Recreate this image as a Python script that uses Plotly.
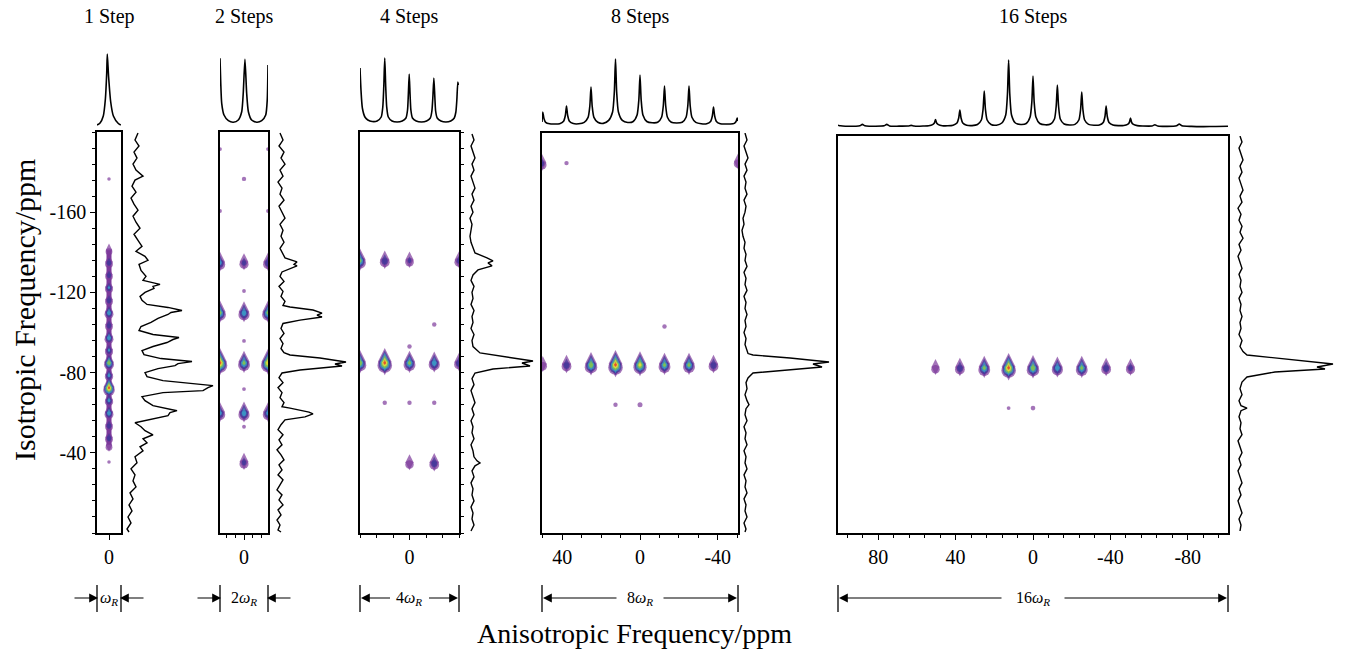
import math
import plotly.graph_objects as go

# ---------------- data ----------------
OMEGA_R = 12.6  # rotor frequency in ppm
STEPS = [1, 2, 4, 8, 16]
TITLES = ["1 Step", "2 Steps", "4 Steps", "8 Steps", "16 Steps"]
WIDTH_LABELS = ["<i>ω</i><sub><i>R</i></sub>", "2<i>ω</i><sub><i>R</i></sub>",
                "4<i>ω</i><sub><i>R</i></sub>", "8<i>ω</i><sub><i>R</i></sub>",
                "16<i>ω</i><sub><i>R</i></sub>"]
Y_TICKVALS = [-160, -120, -80, -40]
Y_TICKTEXT = ["-160", "-120", "-80", "-40"]
X_TICKVALS = [[0], [0], [0], [40, 0, -40], [80, 40, 0, -40, -80]]
X_TICKTEXT = [["0"], ["0"], ["0"], ["40", "0", "-40"], ["80", "40", "0", "-40", "-80"]]

# top (anisotropic) projections
TOP1_PPM = [6.3, 4.7, 3.0, 1.9, 1.2, 0.9, 0.2, -0.9, -2.3, -4.9, -6.2]
TOP1_VAL = [0, 2, 9, 26, 52, 71, 48, 23, 9, 1.5, 0]

TOP2_PPM = [12.6, 12.2, 11.7, 10.5, 8.2, 5.6, 3.0, 1.2, 0.4, -0.5, -1.4, -2.3, -4.0, -6.7, -9.3, -11.4, -12.2, -12.6]
TOP2_VAL = [66.7, 41.7, 21.7, 10, 4.3, 2.7, 5, 13.3, 31.7, 65.7, 31.7, 13.3, 5, 2.7, 4.3, 10, 25, 60]

TOP3_PPM = [25.2, 24.7, 24.0, 22.7, 21.2, 19.0, 16.5, 14.4, 13.6, 13.1, 12.6, 12.1, 11.6, 10.8, 8.9, 6.3, 3.7, 1.8, 1.0,
            0.6, 0.15, -0.3, -0.7, -1.5, -3.4, -6.1, -8.7, -10.6, -11.4, -11.9, -12.4, -12.9, -13.3, -14.1, -16.0,
            -18.5, -21.0, -22.8, -23.6, -24.1, -24.6, -24.9]
TOP3_VAL = [57, 35, 17, 8, 5, 3.5, 4, 8, 18, 38, 67, 38, 18, 8, 4, 3, 4, 7, 15,
            30, 51, 30, 15, 7, 4, 3, 4, 7, 14, 28, 47, 28, 14, 7, 4,
            3, 4, 7, 13, 25, 43, 40]

TOP4_PPM = [50.4, 50.0, 49.4, 48.5, 46.5, 44.1,
            41.3, 39.3, 38.4, 37.8, 37.2, 36.3, 34.3, 31.5,
            28.7, 26.7, 25.8, 25.2, 24.6, 23.7, 21.7, 18.9,
            16.1, 14.1, 13.2, 12.6, 12.0, 11.1, 9.1, 6.3,
            3.5, 1.5, 0.6, 0.0, -0.6, -1.5, -3.5, -6.3,
            -9.1, -11.1, -12.0, -12.6, -13.2, -14.1, -16.1, -18.9,
            -21.7, -23.7, -24.6, -25.2, -25.8, -26.7, -28.7, -31.5,
            -34.3, -36.3, -37.2, -37.8, -38.4, -39.3, -41.3, -44.1,
            -46.5, -48.5, -49.4, -50.0, -50.4]
TOP4_VAL = [3, 13, 6.5, 2.6, 1.2, 1.0,
            1.3, 3.8, 9.5, 19, 9.5, 3.8, 1.4, 1.2,
            2.6, 7.6, 19, 38, 19, 7.6, 2.7, 1.6,
            4.6, 13, 33, 66, 33, 13, 4.6, 2.5,
            3.5, 10, 25, 50, 25, 10, 3.5, 2.2,
            2.7, 7.8, 19.5, 39, 19.5, 7.8, 2.7, 2.0,
            2.7, 7.8, 19.5, 39, 19.5, 7.8, 2.7, 1.3,
            1.3, 3.6, 9, 18, 9, 3.6, 1.3, 1.0,
            1.0, 1.6, 3.5, 7, 4]

TOP5_PPM = [100.8, 99.5, 97.0, 94.5,
            91.5, 89.5, 88.2, 86.9, 84.7, 81.9,
            77.0, 75.6, 74.2, 72.0, 69.3,
            64.5, 63.0, 61.5, 59.5, 56.7,
            53.9, 51.9, 51.0, 50.4, 49.8, 48.9, 46.9, 44.1,
            41.3, 39.3, 38.4, 37.8, 37.2, 36.3, 34.3, 31.5,
            28.7, 26.7, 25.8, 25.2, 24.6, 23.7, 21.7, 18.9,
            16.1, 14.1, 13.2, 12.6, 12.0, 11.1, 9.1, 6.3,
            3.5, 1.5, 0.6, 0.0, -0.6, -1.5, -3.5, -6.3,
            -9.1, -11.1, -12.0, -12.6, -13.2, -14.1, -16.1, -18.9,
            -21.7, -23.7, -24.6, -25.2, -25.8, -26.7, -28.7, -31.5,
            -34.3, -36.3, -37.2, -37.8, -38.4, -39.3, -41.3, -44.1,
            -46.9, -48.9, -49.8, -50.4, -51.0, -51.9, -53.9, -56.7,
            -61.5, -63.0, -64.5, -69.3,
            -74.2, -75.6, -77.0, -81.9,
            -88.2, -94.5, -100.8]
TOP5_VAL = [1.8, 1.2, 0.8, 0.8,
            0.8, 1.2, 2.6, 1.2, 0.8, 0.8,
            1.2, 2.6, 1.1, 0.7, 0.9,
            1.0, 1.6, 1.0, 0.8, 1.0,
            1.3, 2.4, 4, 7.5, 4, 2.4, 1.3, 1.2,
            1.8, 4, 9, 17, 9, 4, 1.8, 1.4,
            2.5, 7, 18, 36, 18, 7, 2.5, 1.8,
            4, 12, 33, 67, 33, 12, 4, 2.5,
            3.5, 10, 25, 51, 25, 10, 3.5, 2.2,
            3, 8, 21, 42, 21, 8, 3, 2,
            2.6, 7, 17.5, 35, 17.5, 7, 2.6, 1.8,
            2, 4.5, 10.5, 21, 10.5, 4.5, 2, 1.4,
            1.5, 2.6, 4.5, 9, 4.5, 2.6, 1.4, 1.0,
            1.0, 2.2, 1.0, 0.6,
            1.2, 3, 1.2, 0.6,
            0.4, 0.5, 0.8]

# side (isotropic) projections
SIDE1_PPM = [-199.5, -196, -193, -190, -187, -184, -181, -178, -176, -173, -170, -167, -164, -161, -158, -155,
             -152, -149, -146, -143, -140.5, -138, -136, -134, -131, -128, -126, -124, -123, -122, -120, -118,
             -116, -114, -112.5, -111, -110, -109, -107, -105, -103, -101, -99, -97.5, -96.5, -95, -93, -91,
             -89, -87, -85.5, -84.5, -83.5, -82, -80, -78, -76, -73.5, -72.5, -71, -70, -68, -66, -63.5,
             -61, -60, -58.5, -57, -55, -53, -51, -49, -47, -45, -43, -41, -38, -35, -32, -29, -26, -23,
             -20, -17, -14, -11, -8, -5, -2, -0.5]
SIDE1_VAL = [15, 12, 16, 11, 14, 10, 13, 20, 12, 9, 13, 8, 11, 15, 10, 13,
             17, 11, 15, 19, 13, 22, 25, 16, 18, 23, 20, 37, 30, 31, 22, 17,
             19, 24, 45, 59, 48, 45, 35, 28, 18, 16, 30, 56, 50, 44, 30, 19,
             21, 38, 69, 55, 52, 35, 22, 24, 40, 90, 85, 80, 40, 19, 22, 30,
             54, 47, 45, 30, 12, 18, 22, 30, 20, 24, 17, 20, 12, 14, 8, 12, 10, 13,
             7, 10, 6, 9, 5, 8, 4, 6]

SIDE2_PPM = [-199.5, -196, -193, -190, -187, -184, -181, -178, -175, -172, -169, -166, -163, -160, -157, -154,
             -151, -148, -145, -142, -139.5, -137.2, -135.2, -134, -133.2, -132.2, -130.2, -128, -125.5, -123,
             -120.5, -118, -115.5, -113.5, -112.7, -111.2, -109.7, -108.7, -107.7, -106.2, -104.5, -102, -99.5,
             -97, -94.5, -92, -90, -88.8, -87.3, -85.3, -84.3, -83.3, -81.3, -79.8, -77.5, -75, -72.5, -70,
             -67.5, -65, -63, -62.3, -60.3, -59.4, -57.9, -56.4, -54, -51.5, -49, -46.5, -44, -41.5, -39,
             -36.5, -34, -31.5, -29, -26.5, -24, -21.5, -19, -16.5, -14, -11.5, -9, -6.5, -4, -1.5, -0.5]
SIDE2_VAL = [10, 13, 9, 14, 11, 15, 10, 13, 8, 12, 10, 14, 9, 12, 15, 10,
             13, 11, 14, 10, 13, 15, 27, 24, 27, 22, 12, 10, 14, 9,
             13, 11, 15, 13, 20, 43, 52, 47, 52, 30, 13, 11, 14,
             10, 13, 11, 14, 20, 50, 76, 65, 72, 30, 12, 9, 13, 8, 12,
             10, 14, 12, 20, 39, 43, 35, 15, 11, 8, 13, 9, 12, 7, 11,
             14, 9, 12, 8, 13, 10, 7, 12, 9, 13, 8, 11, 7, 10, 8, 11]

SIDE3_PPM = [-199, -196, -193, -190, -187, -184, -181, -178, -175, -172, -169, -166, -163, -160, -157, -154,
             -151, -148, -145, -142, -139.7, -137.2, -135.7, -134.7, -133.2, -131.2, -128.7, -126, -123, -120,
             -117, -114, -111, -108, -105, -102, -99, -96, -93, -89.8, -87.8, -85.8, -84.8, -83.3, -81.8,
             -79.8, -77, -74, -71, -68, -65, -62, -59, -56, -53, -50, -47, -44, -41, -38, -36, -34.9,
             -33.5, -31, -28, -25, -22, -19, -16, -13, -10, -7, -4, -1]
SIDE3_VAL = [11, 13, 10, 12, 14, 11, 13, 10, 12, 14, 11, 13, 10, 12, 9, 11,
             10, 9, 10, 12, 14, 26, 32, 27, 31, 17, 12, 10, 13, 11,
             12, 10, 13, 11, 12, 10, 13, 11, 12, 19, 46, 72, 61, 69, 32,
             14, 11, 13, 10, 12, 14, 11, 13, 10, 12, 11, 13, 10, 12, 13, 16, 19,
             14, 11, 13, 10, 12, 11, 13, 10, 12, 11, 13, 10]

SIDE4_PPM = [-199.5, -196, -193, -190, -187, -184, -181, -178, -175, -172, -169, -166, -163, -160, -157, -154,
             -151, -148, -145, -142, -139, -136, -133, -130, -127, -124, -121, -118, -115, -112, -109, -106,
             -103, -100, -97, -94, -91, -89.5, -88.8, -87.3, -85.3, -84.3, -82.8, -81.3, -79.8, -77.3, -75,
             -72, -69, -66, -64, -62, -59, -56, -53, -50, -47, -44, -41, -38, -35, -32, -29, -26, -23, -20,
             -17, -14, -11, -8, -5, -2, -0.5]
SIDE4_VAL = [5, 7, 4, 6, 8, 5, 7, 4, 6, 5, 7, 4, 6, 5, 3, 4,
             2, 3, 5, 4, 6, 5, 7, 4, 6, 5, 7, 4, 6, 5, 7, 5,
             6, 4, 6, 5, 7, 8, 13, 50, 89, 73, 82, 43, 13, 8, 6,
             7, 5, 7, 9, 6, 5, 7, 4, 6, 5, 7, 4, 6, 5, 7, 4, 6, 5, 7,
             4, 6, 5, 7, 4, 6, 5]

SIDE5_PPM = [-198, -195, -192, -189, -186, -183, -180, -177, -174, -171, -168, -165, -162, -159, -156, -153,
             -150, -147, -144, -141, -138, -135, -132, -129, -126, -123, -120, -117, -114, -111, -108, -105,
             -102, -99, -96, -93, -90.5, -88.8, -86.3, -84.3, -82.8, -81.8, -80.3, -77.8, -75.3, -72, -69,
             -66, -63.5, -62.3, -61, -58, -55, -52, -49, -46, -43, -40, -37, -34, -31, -28, -25, -22, -19,
             -16, -13, -10, -7, -4, -1]
SIDE5_VAL = [10, 12, 9, 11, 13, 10, 12, 9, 11, 13, 10, 12, 8, 11, 9, 12,
             10, 13, 9, 11, 8, 10, 12, 9, 11, 10, 12, 9, 11, 10, 12, 10,
             11, 9, 12, 10, 13, 17, 62, 103, 87, 95, 45, 17, 12, 10, 12,
             9, 11, 17, 11, 9, 11, 10, 12, 8, 10, 12, 9, 11, 8, 10, 12, 9, 11,
             8, 10, 12, 9, 11, 10]

# 2D contour peaks: anisotropic ppm, isotropic ppm, intensity (contour levels reached)
P1_STREAK_Y = [-141, -44]          # continuous lowest-level ridge in the 1-step panel
P1_BLOB_X = [0] * 19
P1_BLOB_Y = [-176.6, -141, -135, -128.75, -122.5, -116.25, -110, -103.75, -97.5, -91.25, -85, -78.75, -72.5,
             -66.25, -60, -53.75, -47.5, -43.5, -35.4]
P1_BLOB_I = [0.4, 1, 2, 1.8, 2.2, 2, 3, 2, 3, 2.2, 4, 2.5, 5.5, 2.5, 3, 2, 2, 1, 0.4]

P2_BLOB_X = [12.6, -12.6, 0, 12.6, -12.6, 12.6, 0, -12.6, 0, 12.6, 0, -12.6, 0, 12.6, 0, -12.6, 0, 12.6, 0, -12.6, 0, 0]
P2_BLOB_Y = [-191.5, -191.5, -176.6, -160.6, -160.6, -135, -135, -135, -120.7, -110, -110, -110, -95.8, -85, -85, -85,
             -71.8, -60, -60, -60, -53, -35.4]
P2_BLOB_I = [0.3, 0.3, 0.4, 0.3, 0.3, 2.5, 1.5, 2, 0.3, 3.5, 3, 3.5, 0.3, 5.5, 3.5, 5, 0.3, 2.5, 3, 2.5, 0.3, 1.5]

P3_BLOB_X = [25.2, 12.6, 0, -25.2, -12.6, 0, 25.2, 12.6, 0, -12.6, -25.2, 12.6, 0, -12.6, 0, -12.6]
P3_BLOB_Y = [-136, -136, -136, -136, -104, -93, -85, -85, -85, -85, -85, -65, -65, -65, -35, -35]
P3_BLOB_I = [3.5, 2, 1.2, 1.5, 0.4, 0.4, 4, 5.5, 3.5, 3, 2, 0.4, 0.4, 0.4, 1, 2]

P4_BLOB_X = [50.4, 37.8, -50.4, -12.6, 50.0, 37.8, 25.2, 12.6, 0, -12.6, -25.2, -37.8, 12.6, 0]
P4_BLOB_Y = [-184.5, -184.5, -185, -103, -84, -84, -84, -84, -84, -84, -84, -84, -64, -64]
P4_BLOB_I = [1.5, 0.4, 1, 0.4, 1, 2, 4, 5.5, 4.5, 3.5, 3.5, 2, 0.4, 0.5]

P5_BLOB_X = [50.4, 37.8, 25.2, 12.6, 0, -12.6, -25.2, -37.8, -50.4, 12.6, 0]
P5_BLOB_Y = [-82.5, -82.5, -82.5, -82.5, -82.5, -82.5, -82.5, -82.5, -82.5, -62.3, -62.3]
P5_BLOB_I = [1, 2, 3.5, 5.5, 4, 3, 3.5, 2, 1.5, 0.3, 0.45]

TOPS = [(TOP1_PPM, TOP1_VAL), (TOP2_PPM, TOP2_VAL), (TOP3_PPM, TOP3_VAL), (TOP4_PPM, TOP4_VAL), (TOP5_PPM, TOP5_VAL)]
SIDES = [(SIDE1_PPM, SIDE1_VAL), (SIDE2_PPM, SIDE2_VAL), (SIDE3_PPM, SIDE3_VAL), (SIDE4_PPM, SIDE4_VAL),
         (SIDE5_PPM, SIDE5_VAL)]
BLOBS = [(P1_BLOB_X, P1_BLOB_Y, P1_BLOB_I), (P2_BLOB_X, P2_BLOB_Y, P2_BLOB_I), (P3_BLOB_X, P3_BLOB_Y, P3_BLOB_I),
         (P4_BLOB_X, P4_BLOB_Y, P4_BLOB_I), (P5_BLOB_X, P5_BLOB_Y, P5_BLOB_I)]

# ---------------- layout / style ----------------
W, H = 1346, 652
FONT = "Liberation Serif, Times New Roman, serif"
PX_PER_PPM_Y = 2.005
PANEL_PX = [(97, 121, 132, 533), (220, 268, 132, 533), (360, 459, 132, 533), (542, 738, 133, 533), (838, 1228, 136, 533)]
TOP_DOM_PX = [(40, 128), (40, 128), (40, 128), (40, 128), (42, 130)]
X_MINOR = [None, 4.5, 8.4, 10, 8]
BLOB_SCALE = [0.8, 1, 1, 1, 1]
LAYER_COLORS = ["#7d3a9b", "#41389a", "#3b9dc8", "#84c44c", "#eedc3a", "#e4462b"]
ARROW_Y = 598
BAR_Y = (585, 612)
TICK_FONT = dict(family=FONT, size=20, color="black")


def xd(a, b):
    return [a / W, b / W]


def yd(top, bottom):
    return [1 - bottom / H, 1 - top / H]


fig = go.Figure()
layout = {}
annotations = []
shapes = []


def blob_traces(xs, ys, levels, xa, ya, scale):
    """Draw each contour peak as nested egg-shaped marker layers (outer purple -> inner red)."""
    out = []
    for k in range(6):
        tx, ty, sym, size = [], [], [], []
        for x, y, inten in zip(xs, ys, levels):
            if inten < 1:
                if k == 0:
                    tx.append(x); ty.append(y); sym.append("circle"); size.append((2 + 6 * inten) * scale)
                continue
            n = min(6, math.ceil(inten))
            if k >= n:
                continue
            w0 = (6.6 + 1.25 * inten) * scale
            wk = w0 * (1 - k / (inten + 0.6))
            shift = 0.22 * wk / PX_PER_PPM_Y      # round body sits a little lower than the pointed top
            tx += [x, x]; ty += [y - 0.3 * shift, y + shift]
            sym += ["diamond-tall", "circle"]
            size += [1.45 * wk, 1.08 * wk]
        if tx:
            out.append(go.Scatter(x=tx, y=ty, mode="markers", xaxis=xa, yaxis=ya, hoverinfo="skip",
                                  showlegend=False,
                                  marker=dict(symbol=sym, size=size, color=LAYER_COLORS[k], line=dict(width=0))))
    return out


for i, n_steps in enumerate(STEPS):
    l, r, t, b = PANEL_PX[i]
    R = n_steps * OMEGA_R / 2
    ytop = -(b - t) / PX_PER_PPM_Y
    m, tp, sd = 3 * i + 1, 3 * i + 2, 3 * i + 3
    nm = lambda k: "" if k == 1 else str(k)

    # main 2-D panel axes
    xa = dict(domain=xd(l, r), range=[R, -R], anchor="y" + nm(m), showline=True, mirror=True,
              linecolor="black", linewidth=1.5, showgrid=False, zeroline=False,
              ticks="outside", ticklen=5, tickwidth=1, tickcolor="black",
              tickmode="array", tickvals=X_TICKVALS[i], ticktext=X_TICKTEXT[i], tickfont=TICK_FONT)
    if X_MINOR[i]:
        xa["minor"] = dict(ticks="outside", ticklen=3, tickwidth=1, tickcolor="black",
                           tickmode="linear", tick0=0, dtick=X_MINOR[i], showgrid=False)
    ya = dict(domain=yd(t, b), range=[0, ytop], anchor="x" + nm(m), showline=True, mirror=True,
              linecolor="black", linewidth=1.5, showgrid=False, zeroline=False)
    if i == 0:
        ya.update(ticks="outside", ticklen=5, tickwidth=1, tickcolor="black", tickmode="array",
                  tickvals=Y_TICKVALS, ticktext=Y_TICKTEXT, tickfont=TICK_FONT,
                  minor=dict(ticks="outside", ticklen=3, tickwidth=1, tickcolor="black",
                             tickmode="linear", tick0=0, dtick=8, showgrid=False))
    elif i == 2:
        ya.update(side="right", ticks="outside", ticklen=3, tickwidth=1, tickcolor="black",
                  tickmode="linear", tick0=0, dtick=8, showticklabels=False)
    else:
        ya.update(showticklabels=False, ticks="")
    layout["xaxis" + nm(m)] = xa
    layout["yaxis" + nm(m)] = ya

    # top projection axes
    tt, tb = TOP_DOM_PX[i]
    layout["xaxis" + nm(tp)] = dict(domain=xd(l, r), range=[R, -R], anchor="y" + nm(tp), visible=False)
    layout["yaxis" + nm(tp)] = dict(domain=yd(tt, tb), range=[-3, (tb - tt) - 3], anchor="x" + nm(tp),
                                    visible=False)
    # side projection axes
    layout["xaxis" + nm(sd)] = dict(domain=xd(r + 2, r + 107), range=[0, 105], anchor="y" + nm(sd),
                                    visible=False)
    layout["yaxis" + nm(sd)] = dict(domain=yd(t, b), range=[0, ytop], anchor="x" + nm(sd), visible=False)

    # traces
    if i == 0:
        fig.add_trace(go.Scatter(x=[0, 0], y=P1_STREAK_Y, mode="lines", xaxis="x", yaxis="y",
                                 line=dict(color=LAYER_COLORS[0], width=5), hoverinfo="skip", showlegend=False))
    bx, by, bi = BLOBS[i]
    for tr in blob_traces(bx, by, bi, "x" + nm(m), "y" + nm(m), BLOB_SCALE[i]):
        fig.add_trace(tr)
    px_, pv = TOPS[i]
    fig.add_trace(go.Scatter(x=px_, y=pv, mode="lines", xaxis="x" + nm(tp), yaxis="y" + nm(tp),
                             line=dict(color="black", width=1.6, shape="spline", smoothing=0.6),
                             hoverinfo="skip", showlegend=False))
    sp, sv = SIDES[i]
    fig.add_trace(go.Scatter(x=sv, y=sp, mode="lines", xaxis="x" + nm(sd), yaxis="y" + nm(sd),
                             line=dict(color="black", width=1.4),
                             hoverinfo="skip", showlegend=False))

    # step title
    annotations.append(dict(x=(l + r) / 2 / W, y=1 - 17 / H, xref="paper", yref="paper", text=TITLES[i],
                            showarrow=False, font=dict(family=FONT, size=20, color="black"),
                            xanchor="center", yanchor="middle"))
    # width indicator
    for xb in (l, r):
        shapes.append(dict(type="line", xref="paper", yref="paper", x0=xb / W, x1=xb / W,
                           y0=1 - BAR_Y[0] / H, y1=1 - BAR_Y[1] / H, line=dict(color="black", width=1.3)))
    annotations.append(dict(x=(l + r) / 2 / W, y=1 - ARROW_Y / H, xref="paper", yref="paper",
                            text=WIDTH_LABELS[i], showarrow=False, font=dict(family=FONT, size=16, color="black"),
                            xanchor="center", yanchor="middle"))
    if i < 2:
        tails = [(l + 1, -25), (r - 1, 25)]
    else:
        half_label = [0, 0, 18, 22, 30][i]
        mid = (l + r) / 2
        tails = [(l + 1, mid - half_label - (l + 1)), (r - 1, mid + half_label - (r - 1))]
    for xh, dx in tails:
        annotations.append(dict(x=xh / W, y=1 - ARROW_Y / H, xref="paper", yref="paper", text="",
                                showarrow=True, ax=dx, ay=0, arrowhead=2, arrowsize=1.6, arrowwidth=1.1,
                                arrowcolor="black", standoff=0, startstandoff=0))

annotations.append(dict(x=634 / W, y=1 - 633 / H, xref="paper", yref="paper", text="Anisotropic Frequency/ppm",
                        showarrow=False, font=dict(family=FONT, size=28, color="black"),
                        xanchor="center", yanchor="middle"))
annotations.append(dict(x=25 / W, y=1 - 310 / H, xref="paper", yref="paper", text="Isotropic Frequency/ppm",
                        showarrow=False, textangle=-90, font=dict(family=FONT, size=30, color="black"),
                        xanchor="center", yanchor="middle"))

fig.update_layout(width=W, height=H, margin=dict(l=0, r=0, t=0, b=0), paper_bgcolor="white",
                  plot_bgcolor="rgba(0,0,0,0)", showlegend=False, hovermode=False,
                  annotations=annotations, shapes=shapes, **layout)
fig.write_html("out.html", config={"displayModeBar": False},
               post_script="document.body.style.margin='0';document.body.style.overflow='hidden';")
